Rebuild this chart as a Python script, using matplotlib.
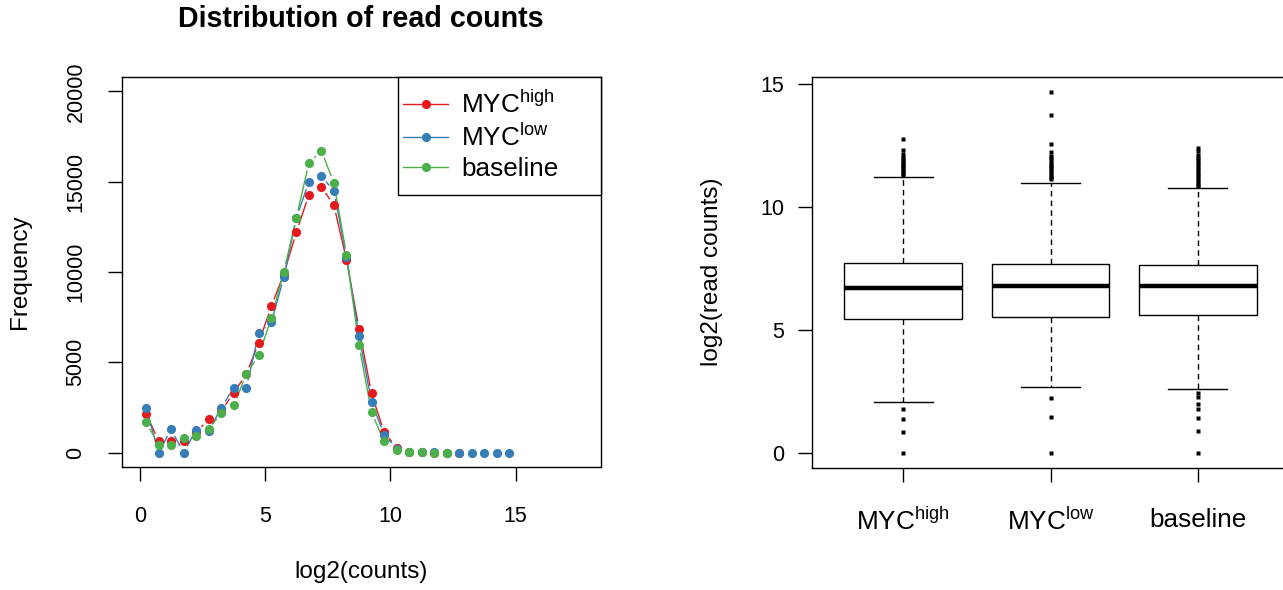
import matplotlib
matplotlib.use('Agg')
import matplotlib.pyplot as plt
import numpy as np
from matplotlib.collections import LineCollection
from matplotlib.lines import Line2D
from matplotlib.patches import Rectangle

plt.rcParams['font.family'] = ['Liberation Sans', 'DejaVu Sans']
plt.rcParams['mathtext.fontset'] = 'custom'
plt.rcParams['mathtext.rm'] = 'Liberation Sans'
plt.rcParams['mathtext.it'] = 'Liberation Sans:italic'
plt.rcParams['mathtext.bf'] = 'Liberation Sans:bold'

# ---------------- data ----------------
bin_mids = [0.25, 0.75, 1.25, 1.75, 2.25, 2.75, 3.25, 3.75, 4.25, 4.75,
            5.25, 5.75, 6.25, 6.75, 7.25, 7.75, 8.25, 8.75, 9.25, 9.75,
            10.25, 10.75, 11.25, 11.75, 12.25, 12.75, 13.25, 13.75, 14.25, 14.75]

freq_myc_high = [2150, 667, 667, 630, 1130, 1833, 2300, 3315, 4333, 6094,
                 8094, 9900, 12204, 14278, 14722, 13685, 10685, 6870, 3278, 1130,
                 280, 40, 8, 3, 1, 1]
freq_myc_low = [2480, 0, 1278, 0, 1240, 1185, 2480, 3594, 3594, 6611,
                7204, 9704, 13000, 14981, 15333, 14463, 10850, 6463, 2796, 1000,
                220, 35, 10, 4, 2, 1, 1, 1, 1, 1]
freq_baseline = [1685, 444, 444, 815, 907, 1278, 2204, 2611, 4333, 5389,
                 7444, 10019, 13000, 16037, 16704, 14926, 10963, 5944, 2241, 630,
                 130, 20, 5, 2, 1]

groups = [r'MYC$^{\mathrm{high}}$', r'MYC$^{\mathrm{low}}$', 'baseline']
colors = ['#E41A1C', '#377EB8', '#4DAF4A']

box_q1 = [5.45, 5.53, 5.61]
box_median = [6.72, 6.77, 6.79]
box_q3 = [7.72, 7.68, 7.64]
whisker_low = [2.07, 2.70, 2.59]
whisker_high = [11.22, 10.99, 10.78]
fliers_myc_high = [12.76, 12.32, 12.15, 12.02, 11.95, 11.88, 11.80, 11.72, 11.65,
                   11.58, 11.50, 11.43, 11.37, 11.30, 1.78, 1.37, 0.85, 0.0]
fliers_myc_low = [14.66, 13.74, 12.56, 12.25, 12.07, 11.98, 11.90, 11.80, 11.72,
                  11.63, 11.55, 11.45, 11.37, 11.28, 11.20, 11.12, 2.22, 1.48, 0.0]
fliers_baseline = [12.39, 12.27, 12.12, 11.98, 11.90, 11.80, 11.70, 11.60, 11.50,
                   11.40, 11.30, 11.20, 11.10, 11.00, 10.90, 10.84,
                   2.43, 2.27, 2.00, 1.80, 1.41, 0.89, 0.0]

# ---------------- figure ----------------
W, H = 1283, 590
fig = plt.figure(figsize=(W / 100, H / 100), dpi=100)

def px_axes(x0, y0, x1, y1):
    return fig.add_axes([x0 / W, 1 - y1 / H, (x1 - x0) / W, (y1 - y0) / H])

TICK_FS = 15.5
LAB_FS = 17.5
CAT_FS = 18.8

# ----- left: frequency polygon -----
AX1 = (122, 77, 601, 467)
ax1 = px_axes(*AX1)
ax1.set_xlim(-0.71, 18.41)
ax1.set_ylim(-800, 20800)

def draw_type_b(ax, x, y, color, gap_px=7.5):
    pts = ax.transData.transform(np.column_stack([x, y]))
    inv = ax.transData.inverted()
    segs = []
    for p0, p1 in zip(pts[:-1], pts[1:]):
        d = p1 - p0
        L = np.hypot(d[0], d[1])
        if L <= 2 * gap_px:
            continue
        u = d / L
        segs.append(inv.transform(np.array([p0 + u * gap_px, p1 - u * gap_px])))
    ax.add_collection(LineCollection(segs, colors=color, linewidths=1.0))
    ax.plot(x, y, 'o', color=color, ms=6.6, mec='none', zorder=3)

series = [freq_myc_high, freq_myc_low, freq_baseline]
for vals, c in zip(series, colors):
    draw_type_b(ax1, bin_mids[:len(vals)], vals, c)

ax1.set_xticks([0, 5, 10, 15])
ax1.set_yticks([0, 5000, 10000, 15000, 20000])
ax1.tick_params(axis='both', direction='out', length=10, width=1.0,
                labelsize=TICK_FS)
ax1.tick_params(axis='x', pad=18)
ax1.tick_params(axis='y', pad=15.5)
for lab in ax1.get_yticklabels():
    lab.set_rotation(90)
    lab.set_va('center')
for s in ax1.spines.values():
    s.set_linewidth(1.0)

ax1.set_xlabel('log2(counts)', fontsize=LAB_FS)
ax1.xaxis.set_label_coords(0.5, (467 - 572) / 390)
ax1.xaxis.label.set_va('center')
ax1.set_ylabel('Frequency', fontsize=LAB_FS)
ax1.yaxis.set_label_coords((20 - 122) / 479, 0.5)
ax1.yaxis.label.set_va('center')

fig.text(361 / W, 1 - 19 / H, 'Distribution of read counts', ha='center',
         va='center', fontsize=20.6, fontweight='bold')

# legend frame (drawn as in R: fixed box), then the entries inside it
aw, ah = AX1[2] - AX1[0], AX1[3] - AX1[1]
lx0, ly0, lx1, ly1 = 398, 77, 601, 195
ax1.add_patch(Rectangle(((lx0 - AX1[0]) / aw, (AX1[3] - ly1) / ah),
                        (lx1 - lx0) / aw, (ly1 - ly0) / ah,
                        transform=ax1.transAxes, facecolor='white',
                        edgecolor='black', linewidth=1.0, zorder=5, clip_on=False))
handles = [Line2D([], [], color=c, marker='o', ms=6.6, mec='none', lw=1.0)
           for c in colors]
leg = ax1.legend(handles, groups, loc='upper left',
                 bbox_to_anchor=((389 - AX1[0]) / aw, 1.0), borderaxespad=0,
                 fontsize=CAT_FS, frameon=False,
                 handlelength=1.72, handletextpad=0.5, labelspacing=0.22,
                 borderpad=0.55)
leg.set_zorder(6)

# ----- right: boxplot -----
ax2 = px_axes(812, 77, 1289, 467.5)
stats = []
for i, fl in enumerate([fliers_myc_high, fliers_myc_low, fliers_baseline]):
    stats.append(dict(med=box_median[i], q1=box_q1[i], q3=box_q3[i],
                      whislo=whisker_low[i], whishi=whisker_high[i],
                      fliers=fl, label=groups[i]))
ax2.bxp(stats, positions=[1, 2, 3], widths=0.8, capwidths=0.4, patch_artist=True,
        boxprops=dict(facecolor='white', edgecolor='black', linewidth=1.0),
        medianprops=dict(color='black', linewidth=3.2, solid_capstyle='butt'),
        whiskerprops=dict(color='black', linewidth=1.0, linestyle=(0, (4, 3))),
        capprops=dict(color='black', linewidth=1.0),
        flierprops=dict(marker='s', markersize=2.8, markerfacecolor='black',
                        markeredgecolor='none', linestyle='none'))
ax2.set_xlim(0.38, 3.62)
ax2.set_ylim(-0.589, 15.285)
ax2.set_yticks([0, 5, 10, 15])
ax2.tick_params(axis='both', direction='out', length=10, width=1.0,
                labelsize=TICK_FS, pad=10)
ax2.tick_params(axis='x', labelsize=CAT_FS, pad=19)
for s in ax2.spines.values():
    s.set_linewidth(1.0)
ax2.set_ylabel('log2(read counts)', fontsize=LAB_FS)
ax2.yaxis.set_label_coords((712 - 812) / 477, 0.5)
ax2.yaxis.label.set_va('center')

fig.savefig('out.png', dpi=100)
